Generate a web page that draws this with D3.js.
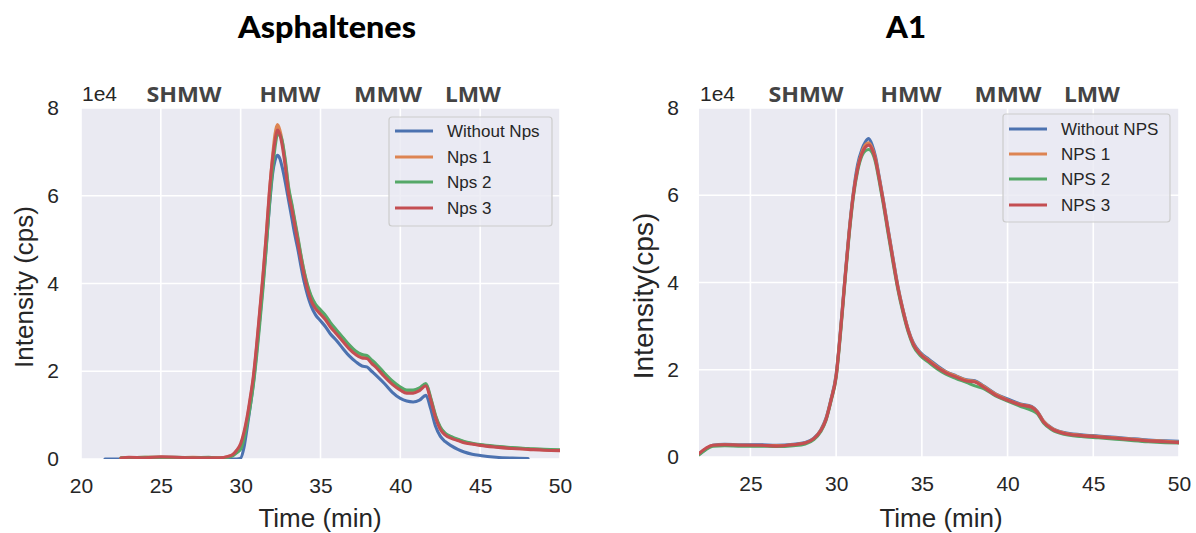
<!DOCTYPE html>
<html><head><meta charset="utf-8">
<script src="https://cdn.jsdelivr.net/npm/d3@7"></script>
<style>
html,body{margin:0;padding:0;background:#fff;}
svg{display:block;}
</style></head>
<body>
<svg id="c" width="1196" height="533"></svg>
<script>
// ---------- DATA ----------
const titles = ["Asphaltenes", "A1"];
const yTicks = [0, 2, 4, 6, 8];
const xTicksA = [20, 25, 30, 35, 40, 45, 50];
const xTicksB = [25, 30, 35, 40, 45, 50];
const regionLabels = ["SHMW", "HMW", "MMW", "LMW"];
const seriesNamesA = ["Without Nps", "Nps 1", "Nps 2", "Nps 3"];
const seriesNamesB = ["Without NPS", "NPS 1", "NPS 2", "NPS 3"];

// Asphaltenes: time (min) and intensity (x1e4 cps)
const timeA = [21.5, 22.5, 23, 24, 25, 26, 27, 28, 28.7, 29.2, 29.5, 29.75, 30, 30.2, 30.4, 30.6, 30.8, 31.0, 31.2, 31.4, 31.6, 31.8, 32.0, 32.15, 32.3, 32.45, 32.6, 32.8, 33.0, 33.2, 33.4, 33.6, 33.8, 34.0, 34.2, 34.4, 34.7, 35.0, 35.3, 35.6, 36.0, 36.4, 36.8, 37.2, 37.6, 37.9, 38.2, 38.5, 39.0, 39.5, 40.0, 40.4, 40.8, 41.2, 41.6, 41.9, 42.2, 42.5, 42.8, 43.2, 43.6, 44.0, 44.5, 45.0, 46.0, 47.0, 48.0, 49.0, 50.0];
const withoutNpsA = [0.0, 0.0, 0.01, 0.01, 0.01, 0.01, 0.01, 0.01, 0.0, 0.0, 0.0, 0.0, 0.02, 0.25, 0.7, 1.2, 1.75, 2.45, 3.2, 4.0, 4.85, 5.75, 6.5, 6.8, 6.92, 6.85, 6.65, 6.3, 5.9, 5.5, 5.1, 4.75, 4.35, 4.0, 3.72, 3.5, 3.28, 3.15, 3.02, 2.86, 2.7, 2.52, 2.35, 2.22, 2.12, 2.1, 2.0, 1.9, 1.72, 1.52, 1.38, 1.32, 1.3, 1.34, 1.45, 1.15, 0.75, 0.52, 0.4, 0.3, 0.22, 0.16, 0.11, 0.08, 0.04, 0.02, 0.01, null, null];
const nps1A = [null, 0.02, 0.03, 0.04, 0.04, 0.03, 0.04, 0.03, 0.03, 0.05, 0.09, 0.18, 0.3, 0.55, 0.9, 1.35, 1.85, 2.55, 3.35, 4.15, 5.05, 6.05, 6.9, 7.4, 7.62, 7.5, 7.25, 6.75, 6.15, 5.78, 5.38, 4.98, 4.58, 4.22, 3.92, 3.7, 3.5, 3.37, 3.25, 3.09, 2.92, 2.75, 2.58, 2.44, 2.36, 2.34, 2.24, 2.14, 1.94, 1.76, 1.62, 1.55, 1.55, 1.6, 1.7, 1.38, 0.98, 0.71, 0.58, 0.5, 0.44, 0.39, 0.35, 0.32, 0.28, 0.25, 0.23, 0.21, 0.2];
const nps2A = [null, 0.03, 0.03, 0.04, 0.04, 0.04, 0.03, 0.04, 0.02, 0.04, 0.07, 0.14, 0.22, 0.45, 0.8, 1.2, 1.7, 2.35, 3.1, 3.9, 4.8, 5.8, 6.6, 7.1, 7.38, 7.4, 7.25, 6.8, 6.2, 5.82, 5.42, 5.02, 4.6, 4.24, 3.95, 3.73, 3.52, 3.4, 3.28, 3.12, 2.94, 2.77, 2.6, 2.46, 2.38, 2.36, 2.26, 2.16, 1.96, 1.78, 1.64, 1.57, 1.57, 1.62, 1.72, 1.4, 1.0, 0.73, 0.59, 0.51, 0.45, 0.4, 0.36, 0.33, 0.29, 0.26, 0.24, 0.22, 0.21];
const nps3A = [null, 0.02, 0.04, 0.03, 0.05, 0.04, 0.03, 0.03, 0.03, 0.06, 0.1, 0.2, 0.35, 0.6, 0.95, 1.4, 1.9, 2.6, 3.4, 4.2, 5.1, 6.1, 6.85, 7.25, 7.5, 7.4, 7.15, 6.65, 6.05, 5.7, 5.3, 4.9, 4.5, 4.15, 3.85, 3.62, 3.42, 3.3, 3.18, 3.02, 2.85, 2.68, 2.51, 2.38, 2.3, 2.29, 2.18, 2.08, 1.88, 1.7, 1.57, 1.5, 1.5, 1.56, 1.67, 1.35, 0.95, 0.68, 0.55, 0.47, 0.42, 0.37, 0.34, 0.31, 0.27, 0.24, 0.22, 0.2, 0.19];

// A1
const timeB = [22.0, 22.4, 22.8, 23.5, 24.5, 25.5, 26.5, 27.5, 28.2, 28.7, 29.1, 29.4, 29.7, 30.0, 30.25, 30.5, 30.75, 31.0, 31.25, 31.5, 31.7, 31.9, 32.1, 32.3, 32.5, 32.75, 33.0, 33.3, 33.6, 33.9, 34.2, 34.5, 34.9, 35.4, 35.9, 36.4, 37.0, 37.6, 38.1, 38.6, 39.3, 40.0, 40.7, 41.4, 41.75, 42.1, 42.6, 43.3, 44.3, 45.3, 46.3, 47.2, 48.2, 49.2, 50.0];
const withoutNpsB = [0.06, 0.18, 0.27, 0.29, 0.28, 0.28, 0.27, 0.29, 0.33, 0.43, 0.62, 0.88, 1.33, 1.9, 2.9, 4.05, 5.15, 6.05, 6.7, 7.05, 7.22, 7.3, 7.15, 6.88, 6.45, 5.9, 5.3, 4.6, 3.92, 3.38, 2.93, 2.62, 2.4, 2.24, 2.09, 1.96, 1.86, 1.77, 1.75, 1.63, 1.45, 1.33, 1.22, 1.16, 1.04, 0.82, 0.66, 0.56, 0.51, 0.48, 0.45, 0.42, 0.39, 0.37, 0.36];
const nps1B = [0.07, 0.19, 0.26, 0.28, 0.27, 0.26, 0.26, 0.28, 0.32, 0.42, 0.61, 0.86, 1.31, 1.87, 2.87, 4.02, 5.12, 6.02, 6.62, 6.98, 7.15, 7.2, 7.08, 6.83, 6.42, 5.88, 5.28, 4.58, 3.9, 3.37, 2.92, 2.6, 2.38, 2.22, 2.07, 1.95, 1.85, 1.76, 1.73, 1.62, 1.44, 1.31, 1.21, 1.15, 1.03, 0.82, 0.65, 0.55, 0.5, 0.47, 0.44, 0.41, 0.38, 0.36, 0.34];
const nps2B = [0.05, 0.17, 0.25, 0.26, 0.25, 0.25, 0.24, 0.26, 0.3, 0.4, 0.58, 0.83, 1.28, 1.82, 2.8, 3.95, 5.05, 5.95, 6.55, 6.9, 7.02, 7.05, 6.98, 6.75, 6.35, 5.8, 5.2, 4.5, 3.84, 3.31, 2.87, 2.55, 2.33, 2.17, 2.02, 1.9, 1.8, 1.71, 1.63, 1.57, 1.4, 1.28, 1.17, 1.07, 0.99, 0.78, 0.62, 0.52, 0.47, 0.44, 0.41, 0.38, 0.35, 0.33, 0.32];
const nps3B = [0.08, 0.2, 0.27, 0.28, 0.27, 0.27, 0.25, 0.28, 0.32, 0.42, 0.6, 0.85, 1.3, 1.85, 2.85, 4.0, 5.1, 6.0, 6.6, 6.95, 7.1, 7.15, 7.05, 6.8, 6.4, 5.85, 5.25, 4.55, 3.88, 3.35, 2.9, 2.58, 2.36, 2.2, 2.05, 1.93, 1.83, 1.74, 1.72, 1.6, 1.42, 1.3, 1.2, 1.14, 1.02, 0.8, 0.64, 0.54, 0.49, 0.46, 0.43, 0.4, 0.37, 0.35, 0.33];

const colors = ["#4C72B0", "#DD8452", "#55A868", "#C44E52"];

// ---------- DRAW ----------
const svg = d3.select("#c");
const TICKFONT = "'Liberation Sans', Arial, sans-serif";

const panels = [
  {
    title: titles[0], titleX: 327, titleW: 178,
    left: 81, right: 560, top: 108, bottom: 459,
    xDomain: [20, 50], xTicks: xTicksA,
    time: timeA, series: [withoutNpsA, nps1A, nps2A, nps3A], names: seriesNamesA,
    ylabel: "Intensity (cps)", ylabelX: 24, ylabelY: 287, ylabelSize: 26,
    xlabelX: 320,
    regionX: [184, 290, 388, 473], regionW: [75, 61, 68, 56],
    legend: {x: 389, y: 117, w: 163, h: 109, lineX0: 395, lineX1: 433, textX: 447, rowY: [131, 157, 182, 208]}
  },
  {
    title: titles[1], titleX: 906, titleW: 40,
    left: 699, right: 1179, top: 108, bottom: 457,
    xDomain: [22, 50], xTicks: xTicksB,
    time: timeB, series: [withoutNpsB, nps1B, nps2B, nps3B], names: seriesNamesB,
    ylabel: "Intensity(cps)", ylabelX: 643, ylabelY: 296, ylabelSize: 28,
    xlabelX: 941,
    regionX: [806, 911, 1008, 1092], regionW: [75, 61, 67, 56],
    legend: {x: 1003, y: 114, w: 167, h: 108, lineX0: 1009, lineX1: 1047, textX: 1061, rowY: [129, 154, 179, 205]}
  }
];

panels.forEach((p, pi) => {
  const x = d3.scaleLinear().domain(p.xDomain).range([p.left, p.right]);
  const y = d3.scaleLinear().domain([0, 8]).range([p.bottom, p.top]);
  const g = svg.append("g");

  // background
  g.append("rect").attr("x", p.left).attr("y", p.top)
    .attr("width", p.right - p.left).attr("height", p.bottom - p.top)
    .attr("fill", "#EAEAF2");

  // grid
  g.append("g").selectAll("line").data(p.xTicks).join("line")
    .attr("x1", d => x(d)).attr("x2", d => x(d))
    .attr("y1", p.top).attr("y2", p.bottom)
    .attr("stroke", "#fff").attr("stroke-width", 1.6);
  g.append("g").selectAll("line").data(yTicks).join("line")
    .attr("x1", p.left).attr("x2", p.right)
    .attr("y1", d => y(d)).attr("y2", d => y(d))
    .attr("stroke", "#fff").attr("stroke-width", 1.6);

  // axes (tick labels only)
  const xAxis = g.append("g").attr("transform", `translate(0,${p.bottom})`)
    .call(d3.axisBottom(x).tickValues(p.xTicks).tickSize(0).tickPadding(19).tickFormat(d3.format("d")));
  xAxis.select(".domain").remove();
  xAxis.selectAll("text").attr("font-family", TICKFONT).attr("font-size", 21).attr("fill", "#262626");

  const yAxis = g.append("g").attr("transform", `translate(${p.left},0)`)
    .call(d3.axisLeft(y).tickValues(yTicks).tickSize(0).tickPadding(pi === 0 ? 22 : 20).tickFormat(d3.format("d")));
  yAxis.select(".domain").remove();
  yAxis.selectAll("text").attr("font-family", TICKFONT).attr("font-size", 21).attr("fill", "#262626");

  // lines
  const clipId = "clip" + pi;
  svg.append("clipPath").attr("id", clipId).append("rect")
    .attr("x", p.left).attr("y", p.top - 5).attr("width", p.right - p.left).attr("height", p.bottom - p.top + 5);
  const line = d3.line()
    .defined(d => d[1] != null)
    .x(d => x(d[0])).y(d => y(d[1]))
    .curve(d3.curveMonotoneX);
  const lg = g.append("g").attr("clip-path", `url(#${clipId})`);
  p.series.forEach((s, si) => {
    const pts = p.time.map((t, i) => [t, s[i]]);
    lg.append("path").attr("d", line(pts))
      .attr("fill", "none").attr("stroke", colors[si])
      .attr("stroke-width", 3.1).attr("stroke-linejoin", "round").attr("stroke-linecap", "round");
  });

  // legend
  const L = p.legend;
  const leg = g.append("g");
  leg.append("rect").attr("x", L.x).attr("y", L.y).attr("width", L.w).attr("height", L.h)
    .attr("rx", 3).attr("fill", "#EAEAF2").attr("fill-opacity", 0.8)
    .attr("stroke", "#CCCCCC").attr("stroke-width", 1.2);
  p.names.forEach((n, i) => {
    leg.append("line").attr("x1", L.lineX0).attr("x2", L.lineX1)
      .attr("y1", L.rowY[i]).attr("y2", L.rowY[i])
      .attr("stroke", colors[i]).attr("stroke-width", 3);
    leg.append("text").attr("x", L.textX).attr("y", L.rowY[i]).attr("dy", "0.36em")
      .attr("font-family", TICKFONT).attr("font-size", 17).attr("fill", "#262626").text(n);
  });

  // axis labels
  g.append("text").attr("x", p.xlabelX).attr("y", 527).attr("text-anchor", "middle")
    .attr("font-family", TICKFONT).attr("font-size", 26).attr("fill", "#262626").text("Time (min)");
  g.append("text").attr("transform", `translate(${p.ylabelX},${p.ylabelY}) rotate(-90)`)
    .attr("text-anchor", "middle").attr("dy", "0.36em")
    .attr("font-family", TICKFONT).attr("font-size", p.ylabelSize).attr("fill", "#262626").text(p.ylabel);

  // offset label
  g.append("text").attr("x", p.left + 1).attr("y", 101)
    .attr("font-family", TICKFONT).attr("font-size", 21).attr("fill", "#262626").text("1e4");

  // region labels
  regionLabels.forEach((r, i) => {
    g.append("text").attr("x", p.regionX[i] - p.regionW[i] / 2).attr("y", 102)
      .attr("textLength", p.regionW[i]).attr("lengthAdjust", "spacingAndGlyphs")
      .attr("font-family", "'Open Sans', sans-serif").attr("font-weight", 700)
      .attr("font-size", 21).attr("fill", "#444444").text(r);
  });

  // title
  g.append("text").attr("x", p.titleX - p.titleW / 2).attr("y", 38)
    .attr("textLength", p.titleW).attr("lengthAdjust", "spacingAndGlyphs")
    .attr("font-family", "Lato, sans-serif").attr("font-weight", 900)
    .attr("font-size", 30).attr("fill", "#000").text(p.title);
});
</script>
</body></html>
